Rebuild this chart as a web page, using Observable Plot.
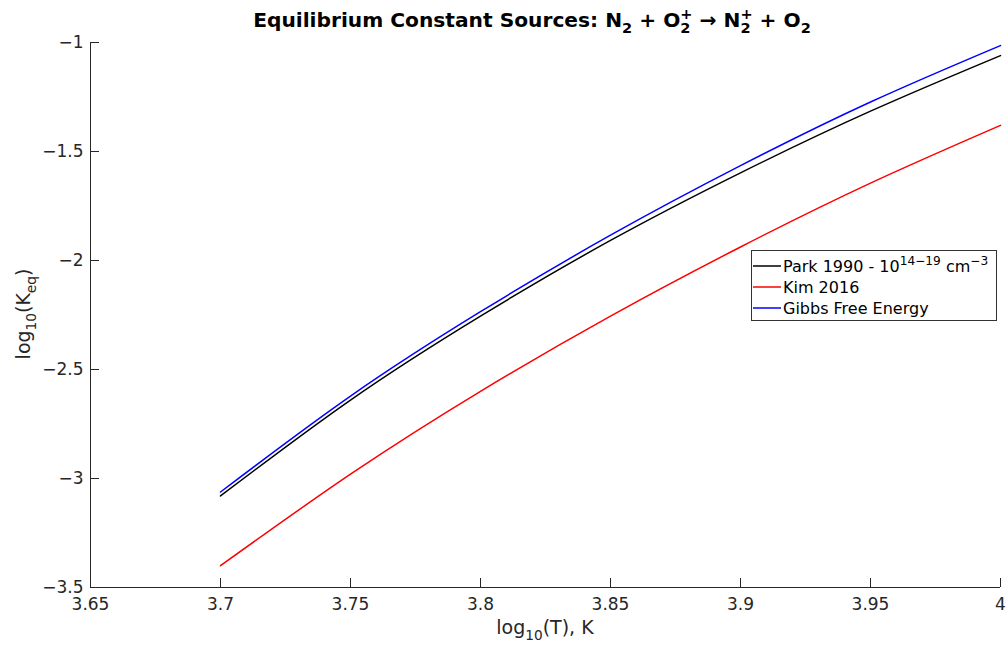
<!DOCTYPE html>
<html>
<head>
<meta charset="utf-8">
<script src="https://cdn.jsdelivr.net/npm/d3@7"></script>
<script src="https://cdn.jsdelivr.net/npm/@observablehq/plot@0.6"></script>
<style>
  body { margin: 0; background: #fff; }
  #chart { width: 1006px; height: 649px; }
</style>
</head>
<body>
<div id="chart"></div>
<script>
// log10(T) sample points and log10(Keq) for each source
const logT = [3.70, 3.75, 3.80, 3.85, 3.90, 3.95, 4.00];
const park1990 = [-3.080, -2.640, -2.255, -1.908, -1.598, -1.315, -1.060];
const kim2016  = [-3.400, -2.980, -2.600, -2.255, -1.938, -1.645, -1.380];
const gibbs    = [-3.062, -2.622, -2.235, -1.884, -1.565, -1.273, -1.014];

const seriesNames = ["Park 1990", "Kim 2016", "Gibbs Free Energy"];
const seriesColors = ["#000000", "#ff0000", "#0000ff"];
const seriesValues = [park1990, kim2016, gibbs];

const xTicks = [3.65, 3.7, 3.75, 3.8, 3.85, 3.9, 3.95, 4];
const xTickLabels = ["3.65", "3.7", "3.75", "3.8", "3.85", "3.9", "3.95", "4"];
const yTicks = [-3.5, -3, -2.5, -2, -1.5, -1];
const yTickLabels = ["\u22123.5", "\u22123", "\u22122.5", "\u22122", "\u22121.5", "\u22121"];

const rows = seriesNames.flatMap((name, i) =>
  logT.map((t, j) => ({series: name, logT: t, logK: seriesValues[i][j]}))
);

const axisColor = "#262626";
const fontFamily = "DejaVu Sans, sans-serif";

const chart = Plot.plot({
  width: 1006,
  height: 649,
  marginLeft: 90,
  marginRight: 6,
  marginTop: 42,
  marginBottom: 62,
  style: {fontFamily, fontSize: "17px", color: axisColor, background: "#fff"},
  x: {domain: [3.65, 4]},
  y: {domain: [-3.5, -1]},
  color: {domain: seriesNames, range: seriesColors},
  marks: [
    Plot.axisX({ticks: xTicks, tickFormat: (d, i) => xTickLabels[i], tickSize: -9, tickPadding: 19, label: null, stroke: axisColor, fill: axisColor}),
    Plot.axisY({ticks: yTicks, tickFormat: (d, i) => yTickLabels[i], tickSize: -9, tickPadding: 16, label: null, stroke: axisColor, fill: axisColor}),
    Plot.ruleY([-3.5], {stroke: axisColor}),
    Plot.ruleX([3.65], {stroke: axisColor}),
    Plot.line(rows, {x: "logT", y: "logK", z: "series", stroke: "series", strokeWidth: 1.5, curve: "natural"})
  ]
});
document.getElementById("chart").append(chart);

const svg = d3.select(chart);

// Writes text with subscript / superscript pieces into a <text> element.
function rich(sel, parts, size) {
  let cur = 0;
  let lastW = 0;
  parts.forEach(p => {
    const type = p.t || "";
    const target = type === "sub" ? size * 0.32 : type === "sup" ? -size * 0.42 : 0;
    const fs = type ? size * (p.scale || 0.72) : size;
    const ts = sel.append("tspan").attr("dy", target - cur).attr("font-size", fs).text(p.s);
    if (p.stack) ts.attr("dx", -lastW);
    cur = target;
    lastW = ts.node().getComputedTextLength();
  });
}

// Title
rich(
  svg.append("text")
    .attr("x", 532).attr("y", 27)
    .attr("text-anchor", "middle")
    .attr("font-weight", "bold")
    .attr("font-family", fontFamily)
    .attr("fill", "#000"),
  [
    {s: "Equilibrium Constant Sources: N"}, {s: "2", t: "sub"},
    {s: " + O"}, {s: "2", t: "sub"}, {s: "+", t: "sup", stack: true},
    {s: " \u2192 N"}, {s: "2", t: "sub"}, {s: "+", t: "sup", stack: true},
    {s: " + O"}, {s: "2", t: "sub"}
  ],
  20.2
);

// Axis titles
rich(
  svg.append("text")
    .attr("x", 545).attr("y", 634)
    .attr("text-anchor", "middle")
    .attr("font-family", fontFamily)
    .attr("fill", axisColor),
  [{s: "log"}, {s: "10", t: "sub"}, {s: "(T), K"}],
  19
);
rich(
  svg.append("text")
    .attr("transform", "translate(30,314) rotate(-90)")
    .attr("text-anchor", "middle")
    .attr("font-family", fontFamily)
    .attr("fill", axisColor),
  [{s: "log"}, {s: "10", t: "sub"}, {s: "(K"}, {s: "eq", t: "sub"}, {s: ")"}],
  19
);

// Legend
const legendParts = [
  [{s: "Park 1990 - 10"}, {s: "14\u221219", t: "sup", scale: 0.76}, {s: " cm"}, {s: "\u22123", t: "sup", scale: 0.76}],
  [{s: seriesNames[1]}],
  [{s: seriesNames[2]}]
];
const lg = svg.append("g").attr("text-anchor", "start");
lg.append("rect")
  .attr("x", 751.5).attr("y", 250.5).attr("width", 245).attr("height", 70)
  .attr("fill", "#fff").attr("stroke", "#333").attr("stroke-width", 1);
seriesNames.forEach((name, i) => {
  const cy = 266 + i * 21;
  lg.append("line")
    .attr("x1", 753).attr("x2", 781).attr("y1", cy).attr("y2", cy)
    .attr("stroke", seriesColors[i]).attr("stroke-width", 1.5);
  rich(
    lg.append("text")
      .attr("x", 783).attr("y", cy + 6)
      .attr("text-anchor", "start")
      .attr("font-family", fontFamily)
      .attr("fill", "#000"),
    legendParts[i],
    16
  );
});
</script>
</body>
</html>
